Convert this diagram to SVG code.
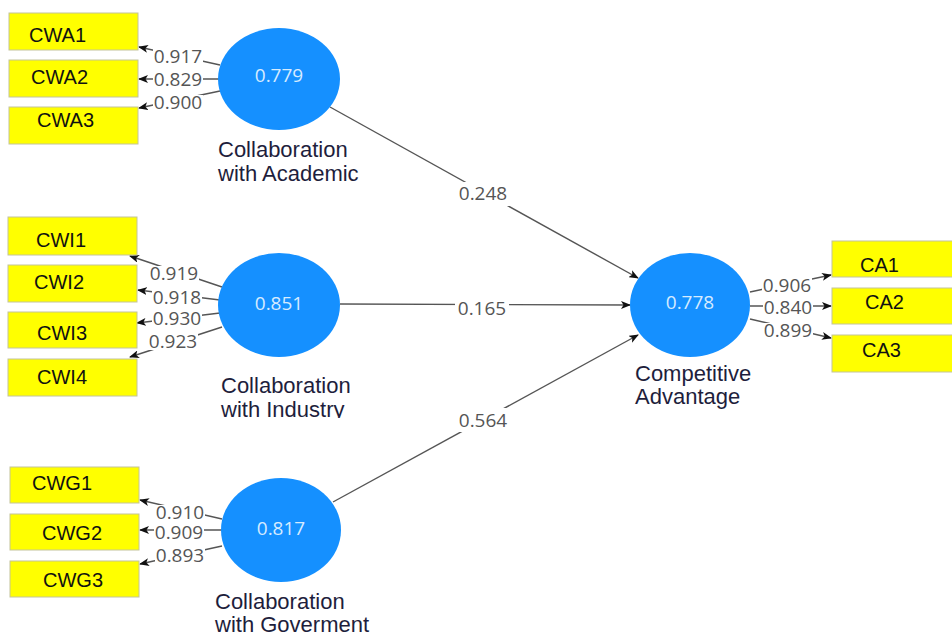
<svg xmlns="http://www.w3.org/2000/svg" width="952" height="635" viewBox="0 0 952 635">
<defs>
<style>
.box{fill:#ffff00;stroke:#c4c49a;stroke-width:1}
.bt{font-family:"Liberation Sans",Arial,sans-serif;font-size:20px;fill:#111}
.lv{font-family:"Liberation Sans",Arial,sans-serif;font-size:22px;fill:#1e1e3c}
.cv{font-family:"Open Sans","Liberation Sans",sans-serif;font-size:19px;fill:#d6ebff;text-anchor:middle}
.lat{fill:#1590ff}
.ln{stroke:#555;stroke-width:1.4;fill:none;marker-end:url(#ah)}
.bg{fill:#fff}
.num{font-family:"Open Sans","Liberation Sans",sans-serif;font-size:19px;fill:#555;text-anchor:middle}
</style>
<marker id="ah" markerWidth="10" markerHeight="8" refX="9" refY="4" orient="auto" markerUnits="userSpaceOnUse">
<path d="M0,0 L10,4 L0,8 L2.5,4 z" fill="#111"/>
</marker>
<clipPath id="clipInd"><rect x="200" y="360" width="220" height="58"/></clipPath>
</defs>
<rect width="952" height="635" fill="#fff"/>

<g id="connectors">
<line class="ln" x1="220" y1="65" x2="139" y2="47"/>
<line class="ln" x1="220" y1="79" x2="139" y2="79"/>
<line class="ln" x1="220" y1="91" x2="139" y2="108"/>
<line class="ln" x1="222" y1="287" x2="130" y2="256"/>
<line class="ln" x1="220" y1="300" x2="138" y2="290"/>
<line class="ln" x1="220" y1="313" x2="137" y2="323"/>
<line class="ln" x1="222" y1="327" x2="130" y2="357"/>
<line class="ln" x1="222" y1="519" x2="140" y2="500"/>
<line class="ln" x1="222" y1="530" x2="140" y2="530"/>
<line class="ln" x1="222" y1="546" x2="140" y2="564"/>
<line class="ln" x1="750" y1="292" x2="831" y2="275"/>
<line class="ln" x1="750" y1="306" x2="831" y2="306"/>
<line class="ln" x1="750" y1="319" x2="831" y2="338"/>
<line class="ln" x1="330" y1="107" x2="638" y2="278"/>
<line class="ln" x1="340" y1="304" x2="630" y2="305"/>
<line class="ln" x1="333" y1="502" x2="638" y2="335"/>
<rect class="bg" x="153" y="49" width="50" height="16"/>
<rect class="bg" x="153" y="72" width="50" height="16"/>
<rect class="bg" x="153" y="95" width="50" height="16"/>
<rect class="bg" x="149" y="266" width="50" height="16"/>
<rect class="bg" x="152" y="290" width="50" height="16"/>
<rect class="bg" x="152" y="311" width="50" height="16"/>
<rect class="bg" x="148" y="334" width="50" height="16"/>
<rect class="bg" x="155" y="505" width="50" height="16"/>
<rect class="bg" x="154" y="525" width="50" height="16"/>
<rect class="bg" x="155" y="548" width="50" height="16"/>
<rect class="bg" x="762" y="278" width="50" height="16"/>
<rect class="bg" x="763" y="300" width="50" height="16"/>
<rect class="bg" x="763" y="323" width="50" height="16"/>
<rect class="bg" x="456" y="182" width="54" height="24"/>
<rect class="bg" x="455" y="298" width="54" height="20"/>
<rect class="bg" x="456" y="408" width="54" height="24"/>
<text class="num" x="178" y="63">0.917</text>
<text class="num" x="178" y="86">0.829</text>
<text class="num" x="178" y="109">0.900</text>
<text class="num" x="174" y="280">0.919</text>
<text class="num" x="177" y="304">0.918</text>
<text class="num" x="177" y="325">0.930</text>
<text class="num" x="173" y="348">0.923</text>
<text class="num" x="180" y="519">0.910</text>
<text class="num" x="179" y="539">0.909</text>
<text class="num" x="180" y="562">0.893</text>
<text class="num" x="787" y="292">0.906</text>
<text class="num" x="788" y="314">0.840</text>
<text class="num" x="788" y="337">0.899</text>
<text class="num" x="483" y="200">0.248</text>
<text class="num" x="482" y="315">0.165</text>
<text class="num" x="483" y="427">0.564</text>
</g>

<g id="CWA1"><rect class="box" x="9" y="13" width="129" height="37"/><text class="bt" x="29" y="42">CWA1</text></g>
<g id="CWA2"><rect class="box" x="9" y="60" width="129" height="37"/><text class="bt" x="31" y="84">CWA2</text></g>
<g id="CWA3"><rect class="box" x="9" y="107" width="129" height="37"/><text class="bt" x="37" y="127">CWA3</text></g>

<g id="CWI1"><rect class="box" x="8" y="217" width="129" height="38"/><text class="bt" x="36" y="247">CWI1</text></g>
<g id="CWI2"><rect class="box" x="8" y="265" width="129" height="37"/><text class="bt" x="34" y="289">CWI2</text></g>
<g id="CWI3"><rect class="box" x="8" y="312" width="129" height="36"/><text class="bt" x="37" y="340">CWI3</text></g>
<g id="CWI4"><rect class="box" x="8" y="359" width="129" height="37"/><text class="bt" x="37" y="384">CWI4</text></g>

<g id="CWG1"><rect class="box" x="10" y="467" width="129" height="36"/><text class="bt" x="32" y="490">CWG1</text></g>
<g id="CWG2"><rect class="box" x="10" y="514" width="129" height="36"/><text class="bt" x="42" y="540">CWG2</text></g>
<g id="CWG3"><rect class="box" x="10" y="561" width="129" height="36"/><text class="bt" x="43" y="587">CWG3</text></g>

<g id="CA1"><rect class="box" x="832" y="241" width="125" height="36"/><text class="bt" x="860" y="272">CA1</text></g>
<g id="CA2"><rect class="box" x="832" y="288" width="125" height="36"/><text class="bt" x="865" y="309">CA2</text></g>
<g id="CA3"><rect class="box" x="832" y="335" width="125" height="37"/><text class="bt" x="862" y="357">CA3</text></g>

<g id="CollabAcademic">
<ellipse class="lat" cx="279" cy="79" rx="61" ry="51"/>
<text class="cv" x="279" y="82">0.779</text>
<text class="lv" x="218" y="157">Collaboration</text>
<text class="lv" x="218" y="181">with Academic</text>
</g>
<g id="CollabIndustry">
<ellipse class="lat" cx="279" cy="305" rx="61" ry="52"/>
<text class="cv" x="279" y="310">0.851</text>
<g clip-path="url(#clipInd)">
<text class="lv" x="221" y="393">Collaboration</text>
<text class="lv" x="221" y="417">with Industry</text>
</g>
</g>
<g id="CollabGovernment">
<ellipse class="lat" cx="281" cy="530" rx="60" ry="52"/>
<text class="cv" x="281" y="535">0.817</text>
<text class="lv" x="215" y="609">Collaboration</text>
<text class="lv" x="215" y="632">with Goverment</text>
</g>
<g id="CompetitiveAdvantage">
<ellipse class="lat" cx="690" cy="305" rx="60" ry="52"/>
<text class="cv" x="690" y="309">0.778</text>
<text class="lv" x="635" y="381">Competitive</text>
<text class="lv" x="635" y="404">Advantage</text>
</g>
</svg>
